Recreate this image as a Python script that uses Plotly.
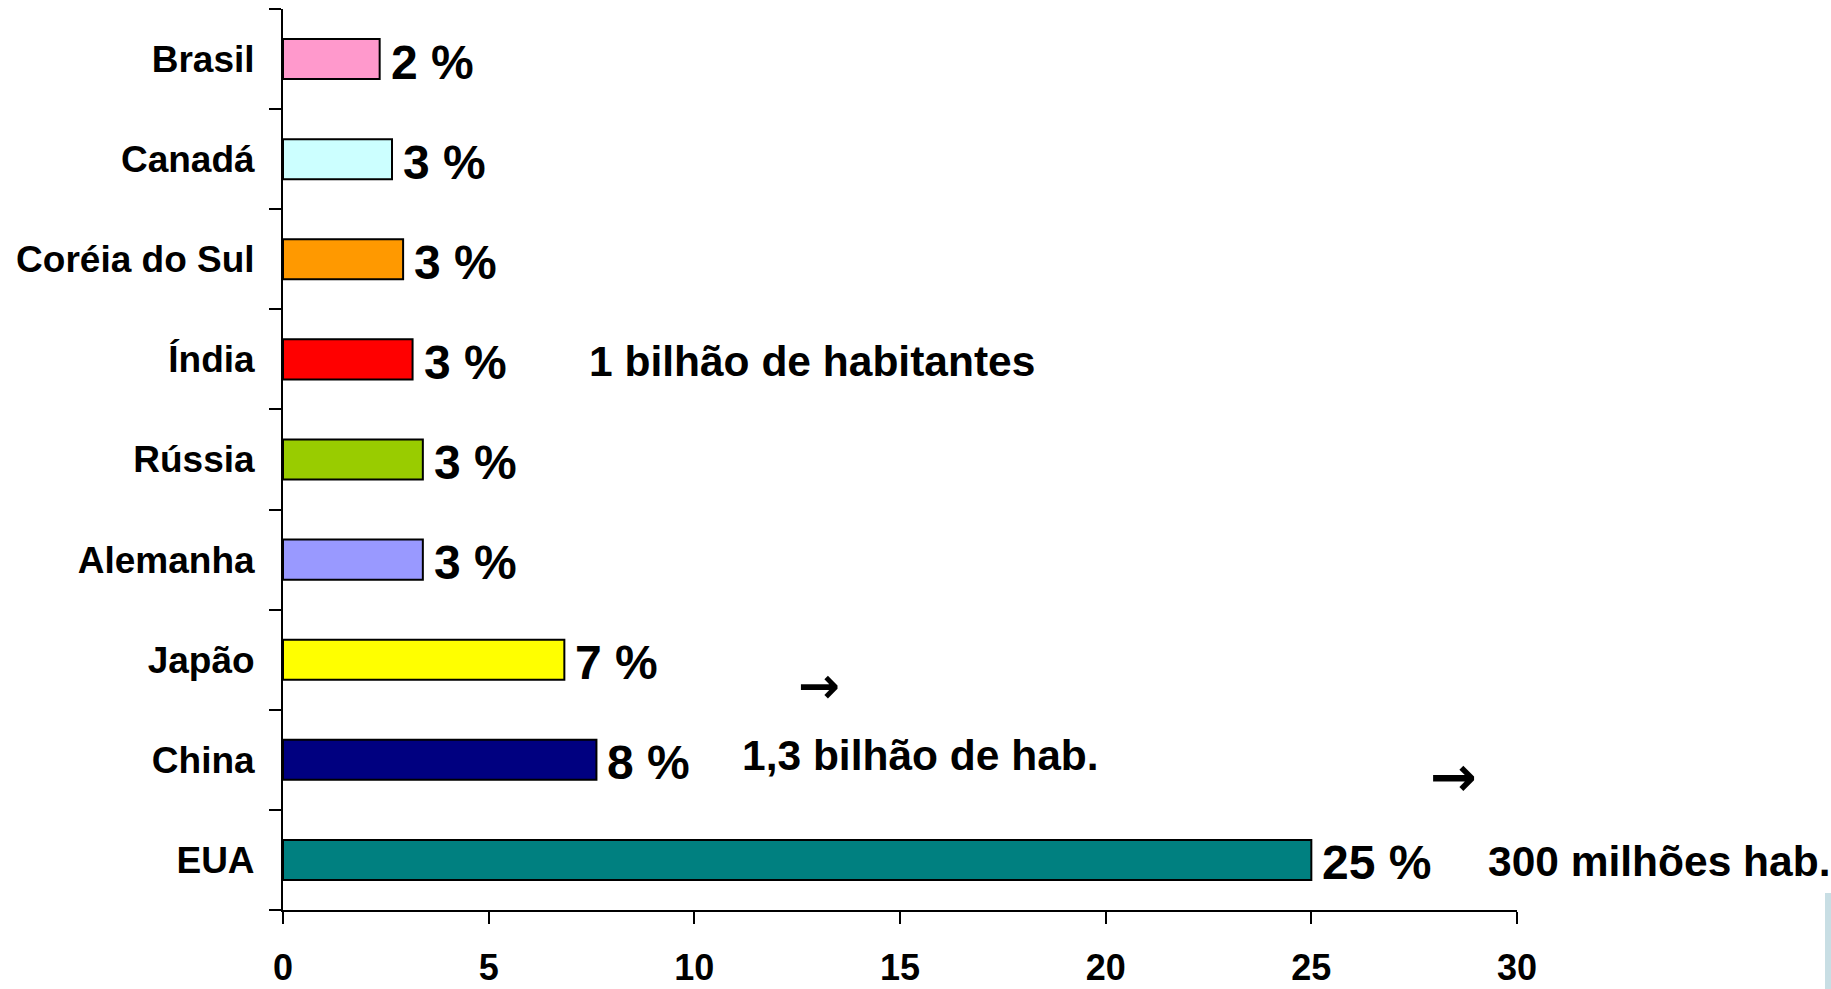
import plotly.graph_objects as go

# Data (top to bottom as shown)
categories = ["Brasil", "Canadá", "Coréia do Sul", "Índia", "Rússia",
              "Alemanha", "Japão", "China", "EUA"]
values = [2.35, 2.65, 2.92, 3.15, 3.4, 3.4, 6.84, 7.62, 25.0]
value_labels = ["2 %", "3 %", "3 %", "3 %", "3 %", "3 %", "7 %", "8 %", "25 %"]
bar_colors = ["#FF99CC", "#CCFFFF", "#FF9900", "#FF0000", "#99CC00",
              "#9999FF", "#FFFF00", "#000080", "#008080"]
x_ticks = [0, 5, 10, 15, 20, 25, 30]

# Population notes: (text, x data value, category, vertical shift px)
notes = [("1 bilhão de habitantes", 7.4, "Índia", -2),
         ("1,3 bilhão de hab.", 11.1, "China", 4),
         ("300 milhões hab.", 29.25, "EUA", -2)]
# Arrows: (x data value, category, vertical shift px, size)
arrows = [(13.04, "China", 74, 50), (28.45, "EUA", 83, 56)]

FONT = "Liberation Sans, Arial, sans-serif"

fig = go.Figure()
fig.add_trace(go.Bar(
    x=values, y=categories, orientation="h",
    marker=dict(color=bar_colors, line=dict(color="black", width=2)),
    width=0.4, hoverinfo="skip",
))

annotations = []
for v, c, lab in zip(values, categories, value_labels):
    annotations.append(dict(x=v, y=c, xref="x", yref="y", text=f"<b>{lab}</b>",
                            showarrow=False, xanchor="left", yanchor="middle",
                            xshift=9, yshift=-3,
                            font=dict(family=FONT, size=48, color="black")))
for txt, x, c, ys in notes:
    annotations.append(dict(x=x, y=c, xref="x", yref="y", text=f"<b>{txt}</b>",
                            showarrow=False, xanchor="left", yanchor="middle",
                            yshift=ys,
                            font=dict(family=FONT, size=42.5, color="black")))
for x, c, ys, sz in arrows:
    annotations.append(dict(x=x, y=c, xref="x", yref="y", text="<b>→</b>",
                            showarrow=False, xanchor="center", yanchor="middle",
                            yshift=ys,
                            font=dict(family="DejaVu Sans", size=sz, color="black")))

fig.update_layout(
    width=1831, height=989,
    margin=dict(l=283, r=314, t=9, b=79),
    plot_bgcolor="white", paper_bgcolor="white",
    showlegend=False,
    annotations=annotations,
    font=dict(family=FONT, color="black"),
    shapes=[dict(type="rect", xref="paper", yref="paper",
                 x0=1.2496, x1=1.26, y0=-0.09, y1=0.019,
                 fillcolor="#C8DEE4", line=dict(width=0), layer="below")],
)
fig.update_xaxes(
    range=[0, 30], tickvals=x_ticks, ticktext=[f"<b>{t}</b>" for t in x_ticks],
    showgrid=False, zeroline=False, showline=True, linecolor="black", linewidth=2,
    ticks="outside", ticklen=12, tickwidth=2, tickcolor="black",
    tickfont=dict(family=FONT, size=36, color="black"),
    ticklabelstandoff=13, automargin=False,
)
fig.update_yaxes(
    type="category", categoryorder="array", categoryarray=categories,
    range=[len(categories) - 0.5, -0.5],
    tickvals=categories, ticktext=[f"<b>{c}</b>" for c in categories],
    showgrid=False, zeroline=False, showline=True, linecolor="black", linewidth=2,
    ticks="outside", ticklen=12, tickwidth=2, tickcolor="black", tickson="boundaries",
    tickfont=dict(family=FONT, size=37, color="black"),
    ticklabelstandoff=19, automargin=False,
)

fig.write_html("out.html", config={"displayModeBar": False},
               post_script="document.body.style.margin='0';document.body.style.overflow='hidden';")
